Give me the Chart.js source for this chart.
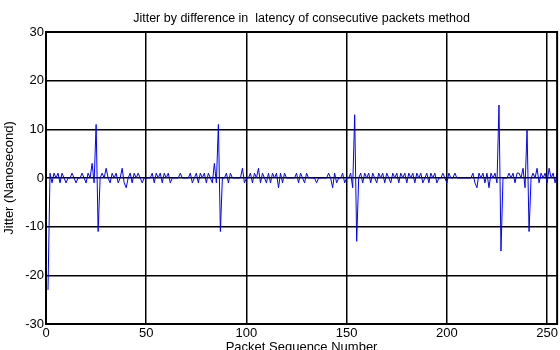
<!DOCTYPE html>
<html>
<head>
<meta charset="utf-8">
<script src="https://cdn.jsdelivr.net/npm/chart.js@4.4.1/dist/chart.umd.min.js"></script>
<style>
	html, body { margin: 0; padding: 0; background: #fff; }
	#wrap { width: 560px; height: 350px; }
</style>
</head>
<body>
<div id="wrap"><canvas id="myChart" width="560" height="350"></canvas></div>
<script>
const TITLE = "Jitter by difference in  latency of consecutive packets method";
const X_TITLE = "Packet Sequence Number";
const Y_TITLE = "Jitter (Nanosecond)";
const firstPacket = 1;
const lastPacket = 255;
const xMin = 0;
const xTicks = [0, 50, 100, 150, 200, 250];
const yTicks = [-30, -20, -10, 0, 10, 20, 30];
// jitter per packet (packet 1..255)
const jitter = [
	-23, 1, -1, 1, 0, 1, -1, 1, 0,
	-1, 0, 0, 1, 0, -1, 0, 0, 1, 0,
	-1, 1, 0, 3, -1, 11, -11, 0, 1, 0,
	2, 0, -1, 1, 0, 1, -1, 0, 2, -1,
	-2, 0, 1, -1, 1, 0, 1, 0, -1, 0,
	0, 0, 0, 1, -1, 1, 0, 1, -1, 1,
	0, 1, -1, 0, 0, 0, 0, 1, 0, 0,
	0, 0, 1, -1, 0, 1, -1, 1, 0, 1,
	-1, 1, 0, -1, 3, -1, 11, -11, 0, 0,
	1, -1, 1, 0, 0, 0, 0, 0, 2, -1,
	0, 0, 1, -1, 1, 0, 2, -1, 1, 0,
	-1, 1, -1, 1, 0, 1, -2, 1, -1, 1,
	0, 0, 0, 0, 0, 1, -1, 1, 0, -1,
	1, 0, 0, 0, 0, -1, 0, 0, 0, 0,
	0, 1, 0, -2, 1, -1, 0, 0, 1, -1,
	0, 0, 1, -2, 13, -13, 0, 1, -1, 1,
	0, 1, -1, 1, 0, -1, 1, 0, 1, -1,
	1, 0, -1, 1, 0, 1, -1, 1, 0, 1,
	-1, 1, 0, 1, -1, 1, 0, 1, -1, 0,
	1, -1, 1, 0, 1, -1, 0, 0, 1, 0,
	-1, 1, 0, 0, 1, 0, 0, 0, 0, 0,
	0, 0, 0, 1, -1, -2, 1, 0, 1, -1,
	1, -2, 1, 0, 1, -1, 15, -15, 0, 0,
	0, 1, 0, 1, -1, 1, 1, 0, 2, -2,
	10, -11, 0, 1, 0, 2, -1, 1, 0, 1,
	-1, 2, 0, 1, -1, 1,
];

const FONT = "'Liberation Sans', Arial, sans-serif";

// box around the plot (top/right edges too, like matlab)
const frame = {
	id: "frame",
	afterDatasetsDraw(chart) {
		const { ctx, chartArea: a } = chart;
		ctx.save();
		ctx.strokeStyle = "#000";
		ctx.lineWidth = 2;
		ctx.strokeRect(a.left, a.top, a.right - a.left, a.bottom - a.top);
		ctx.restore();
	},
};

const ctx = document.getElementById("myChart");

const myChart = new Chart(ctx, {
	type: "line",
	data: {
		datasets: [
			{
				label: "Jitter",
				data: jitter.map((v, i) => ({ x: firstPacket + i, y: v })),
				borderColor: "#0000ff",
				borderWidth: 1,
				pointRadius: 0,
				tension: 0,
				fill: false,
			},
		],
	},
	options: {
		responsive: false,
		animation: false,
		layout: { padding: { left: 0, right: 2, top: 0, bottom: 0 } },
		plugins: {
			legend: { display: false },
			tooltip: { enabled: false },
			title: {
				display: true,
				text: TITLE,
				fullSize: false,
				color: "#000",
				font: { family: FONT, size: 12.5, weight: "normal", lineHeight: 1.2 },
				padding: { top: 11, bottom: 6 },
			},
		},
		scales: {
			x: {
				type: "linear",
				min: xMin,
				max: lastPacket,
				afterFit: (s) => { s.height = 26; },
				afterBuildTicks: (s) => { s.ticks = xTicks.map((v) => ({ value: v })); },
				grid: { color: "#000", lineWidth: 1.5, drawTicks: false },
				border: { display: false },
				ticks: {
					color: "#000",
					font: { family: FONT, size: 13 },
					padding: 2,
					maxRotation: 0,
				},
				title: {
					display: true,
					text: X_TITLE,
					color: "#000",
					font: { family: FONT, size: 13 },
					padding: { top: 0, bottom: -5 },
				},
			},
			y: {
				min: yTicks[0],
				max: yTicks[yTicks.length - 1],
				afterFit: (s) => { s.width = 46; },
				afterBuildTicks: (s) => { s.ticks = yTicks.map((v) => ({ value: v })); },
				grid: { color: "#000", lineWidth: 1.5, drawTicks: false },
				border: { display: false },
				ticks: {
					color: "#000",
					font: { family: FONT, size: 13 },
					padding: 2,
				},
				title: {
					display: true,
					text: Y_TITLE,
					color: "#000",
					font: { family: FONT, size: 13 },
					padding: { top: 2, bottom: 0 },
				},
			},
		},
	},
	plugins: [frame],
});
</script>
</body>
</html>
